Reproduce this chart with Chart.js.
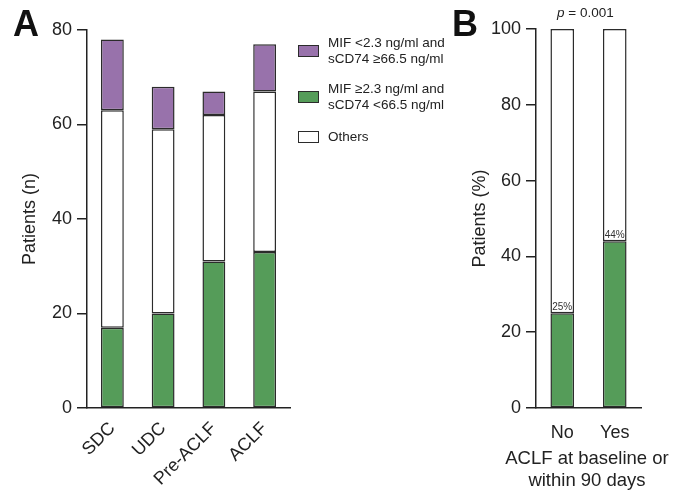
<!DOCTYPE html>
<html>
<head>
<meta charset="utf-8">
<script src="https://cdn.jsdelivr.net/npm/chart.js@4.4.1/dist/chart.umd.min.js"></script>
<style>
  body { margin: 0; background: #fff; font-family: "Liberation Sans", Arial, sans-serif; }
  #wrap { position: relative; width: 692px; height: 499px; overflow: hidden; }
  #boxA { position: absolute; left: 0; top: 0; width: 300px; height: 499px; }
  #boxB { position: absolute; left: 440px; top: 0; width: 252px; height: 499px; }
  .letter { position: absolute; font-weight: bold; font-size: 36px; line-height: 1; color: #111; }
  .leg { position: absolute; left: 298px; font-size: 13.5px; line-height: 16px; color: #222; }
  .leg .sw { position: absolute; left: 0; width: 19px; height: 10px; border: 1.5px solid #2b2b2b; }
  .leg .tx { position: absolute; left: 30px; white-space: nowrap; }
  #pval { position: absolute; left: 557px; top: 5px; font-size: 13.5px; color: #222; white-space: nowrap; }
  #xtitleB { position: absolute; left: 487px; width: 200px; top: 447px; text-align: center; font-size: 18.5px; line-height: 22px; color: #222; }
</style>
</head>
<body>
<div id="wrap">
  <div id="boxA"><canvas id="chartA"></canvas></div>
  <div id="boxB"><canvas id="chartB"></canvas></div>
  <div class="letter" style="left:13px; top:6px;">A</div>
  <div class="letter" style="left:452px; top:6px;">B</div>
  <div id="pval"><i>p</i> = 0.001</div>
  <div id="xtitleB">ACLF at baseline or<br>within 90 days</div>
  <div class="leg" style="top:35px;"><div class="sw" style="top:10px; background:#9872ab;"></div><div class="tx">MIF &lt;2.3 ng/ml and<br>sCD74 ≥66.5 ng/ml</div></div>
  <div class="leg" style="top:81px;"><div class="sw" style="top:10px; background:#559c59;"></div><div class="tx">MIF ≥2.3 ng/ml and<br>sCD74 &lt;66.5 ng/ml</div></div>
  <div class="leg" style="top:129px;"><div class="sw" style="top:2px; background:#fff;"></div><div class="tx">Others</div></div>
</div>
<script>
// panel A data (patients, n)
const groups = ['SDC', 'UDC', 'Pre-ACLF', 'ACLF'];
const highMif = [17, 20, 31, 33];   // MIF >=2.3 and sCD74 <66.5
const others = [46, 39, 31, 34];
const lowMif = [15, 9, 5, 10];      // MIF <2.3 and sCD74 >=66.5

// panel B data (patients, %)
const aclfGroups = ['No', 'Yes'];
const aclfHighMif = [25, 44];
const aclfOthers = [75, 56];

const purple = '#9872ab';
const green = '#559c59';
const edge = '#2b2b2b';
const axisCol = '#222';
const font = 'Liberation Sans';

Chart.defaults.font.family = font;
Chart.defaults.color = '#222';

function barSet(label, data, color) {
    return {
        label: label,
        data: data,
        backgroundColor: color,
        borderColor: edge,
        borderWidth: 1.5,
        borderSkipped: false,
        categoryPercentage: 1,
        barPercentage: 0.45
    };
}

function yAxis(max, title, width, titlePad) {
    return {
        stacked: true,
        min: 0,
        max: max,
        afterFit: s => { s.width = width; },
        ticks: { stepSize: 20, font: { size: 18 }, color: '#222', padding: 5 },
        grid: { display: true, drawOnChartArea: false, drawTicks: true, tickLength: 10, color: axisCol, lineWidth: 1.5 },
        border: { display: true, color: axisCol, width: 1.5 },
        title: { display: true, text: title, font: { size: 18 }, color: '#222', padding: { top: titlePad, bottom: 0 } }
    };
}

// Panel A
new Chart(document.getElementById('chartA'), {
    type: 'bar',
    data: {
        labels: groups,
        datasets: [
            barSet('MIF ≥2.3 ng/ml and sCD74 <66.5 ng/ml', highMif, green),
            barSet('Others', others, '#ffffff'),
            barSet('MIF <2.3 ng/ml and sCD74 ≥66.5 ng/ml', lowMif, purple)
        ]
    },
    options: {
        responsive: true,
        maintainAspectRatio: false,
        animation: false,
        layout: { padding: { left: 0, right: 10, top: 30, bottom: 0 } },
        plugins: { legend: { display: false }, tooltip: { enabled: false } },
        scales: {
            x: {
                stacked: true,
                afterFit: s => { s.height = 91; },
                ticks: { font: { size: 18 }, color: '#222', minRotation: 45, maxRotation: 45, padding: 2 },
                grid: { display: false },
                border: { display: true, color: axisCol, width: 1.5 }
            },
            y: yAxis(80, 'Patients (n)', 87, 19)
        }
    }
});

// percent labels on top of green bars
const pctLabels = {
    id: 'pctLabels',
    afterDatasetsDraw(chart) {
        const ctx = chart.ctx;
        const meta = chart.getDatasetMeta(0);
        ctx.save();
        ctx.font = '10px ' + font;
        ctx.fillStyle = '#333';
        ctx.textAlign = 'center';
        ctx.textBaseline = 'bottom';
        meta.data.forEach((bar, i) => {
            ctx.fillText(aclfHighMif[i] + '%', bar.x, bar.y - 1);
        });
        ctx.restore();
    }
};

// Panel B
new Chart(document.getElementById('chartB'), {
    type: 'bar',
    data: {
        labels: aclfGroups,
        datasets: [
            barSet('MIF ≥2.3 ng/ml and sCD74 <66.5 ng/ml', aclfHighMif, green),
            barSet('Others', aclfOthers, '#ffffff')
        ]
    },
    options: {
        responsive: true,
        maintainAspectRatio: false,
        animation: false,
        layout: { padding: { left: 0, right: 51, top: 29, bottom: 0 } },
        plugins: { legend: { display: false }, tooltip: { enabled: false } },
        scales: {
            x: {
                stacked: true,
                afterFit: s => { s.height = 91; },
                ticks: { font: { size: 18 }, color: '#222', maxRotation: 0, padding: 6 },
                grid: { display: false },
                border: { display: true, color: axisCol, width: 1.5 }
            },
            y: yAxis(100, 'Patients (%)', 96, 29)
        }
    },
    plugins: [pctLabels]
});
</script>
</body>
</html>
